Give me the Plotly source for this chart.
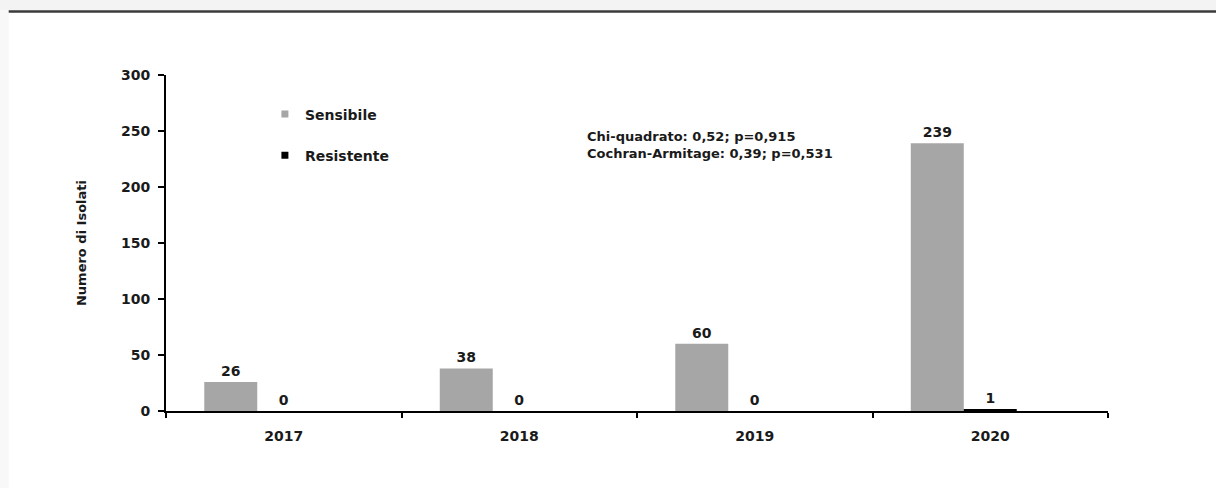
import plotly.graph_objects as go

years = ["2017", "2018", "2019", "2020"]
sensibile = [26, 38, 60, 239]
resistente = [0, 0, 0, 1]
series_names = ["Sensibile", "Resistente"]
series_colors = ["#a6a6a6", "#000000"]
stats_lines = ["Chi-quadrato: 0,52; p=0,915", "Cochran-Armitage: 0,39; p=0,531"]
y_ticks = [0, 50, 100, 150, 200, 250, 300]

FONT = "DejaVu Sans"
TXT = "#1a1a1a"

fig = go.Figure()

bar_w = 0.225
offsets = [-0.3375, -0.1125]
for vals, name, col, off in zip([sensibile, resistente], series_names, series_colors, offsets):
    fig.add_trace(go.Bar(
        x=years, y=vals, name=name, width=bar_w, offset=off,
        marker=dict(color=col, line=dict(width=0)),
        text=[str(v) for v in vals], textposition="outside",
        textfont=dict(family=FONT, size=14, color=TXT, weight="bold"),
        cliponaxis=False, showlegend=False,
    ))
    # legend entries with small square swatches
    fig.add_trace(go.Scatter(
        x=[None], y=[None], mode="markers", name=name,
        marker=dict(symbol="square", size=7, color=col),
        legendgroup=name, showlegend=True,
    ))

fig.add_annotation(
    xref="paper", yref="paper", x=0.445, y=0.792, xanchor="left", yanchor="middle",
    align="left", showarrow=False, text="<br>".join(stats_lines),
    font=dict(family=FONT, size=13, color=TXT, weight="bold"),
)

# page artifacts (header strip and rule)
fig.add_shape(type="rect", xref="paper", yref="paper", x0=-0.2, x1=1.2, y0=1.193, y1=1.26,
              fillcolor="#f3f3f3", line=dict(width=0), layer="below")
fig.add_shape(type="rect", xref="paper", yref="paper", x0=-0.2, x1=-0.167, y0=-0.3, y1=1.193,
              fillcolor="#f8f8f8", line=dict(width=0), layer="below")
fig.add_shape(type="line", xref="paper", yref="paper", x0=-0.167, x1=1.2, y0=1.189, y1=1.189,
              line=dict(color="#3a3a3a", width=2.5))

fig.update_layout(
    width=1216, height=488,
    margin=dict(l=166, r=108, t=75, b=77),
    paper_bgcolor="white", plot_bgcolor="white",
    font=dict(family=FONT, size=14, color=TXT),
    barmode="overlay",
    legend=dict(x=0.105, y=0.93, xanchor="left", yanchor="top",
                font=dict(family=FONT, size=14, color=TXT, weight="bold"),
                tracegroupgap=20, bgcolor="rgba(0,0,0,0)", itemwidth=30),
    xaxis=dict(type="category", range=[-0.5, 3.5], showline=True, linecolor="#000", linewidth=2,
               ticks="outside", tickson="boundaries", ticklen=5, tickwidth=1.5, tickcolor="#000",
               tickfont=dict(family=FONT, size=14, color=TXT, weight="bold"),
               ticklabelstandoff=11, showgrid=False, zeroline=False),
    yaxis=dict(range=[0, 300], tickvals=y_ticks, showline=True, linecolor="#000", linewidth=2,
               ticks="outside", ticklen=6, tickwidth=1.5, tickcolor="#000",
               tickfont=dict(family=FONT, size=14, color=TXT, weight="bold"),
               ticklabelstandoff=5, showgrid=False, zeroline=False,
               title=dict(text="Numero di Isolati", standoff=31,
                          font=dict(family=FONT, size=13, color=TXT, weight="bold"))),
)

fig.write_html("out.html", config={"displayModeBar": False},
               post_script="document.body.style.margin='0';")
